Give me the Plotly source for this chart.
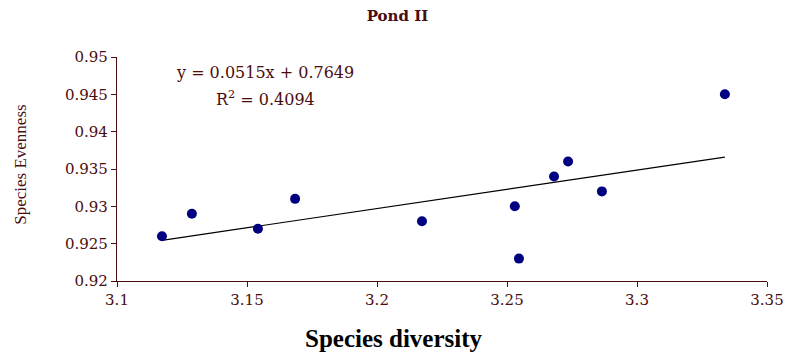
import plotly.graph_objects as go

# Pond II: species diversity vs species evenness
diversity = [3.1173, 3.1288, 3.1542, 3.1685, 3.2173, 3.2530, 3.2546, 3.2681, 3.2735, 3.2865, 3.3338]
evenness = [0.926, 0.929, 0.927, 0.931, 0.928, 0.930, 0.923, 0.934, 0.936, 0.932, 0.945]

slope = 0.0515
intercept = 0.7649
r_squared = 0.4094

x_ticks = [3.1, 3.15, 3.2, 3.25, 3.3, 3.35]
y_ticks = [0.92, 0.925, 0.93, 0.935, 0.94, 0.945, 0.95]

maroon = "#4a0d0d"
serif = "Liberation Serif, Times New Roman, serif"
wide_serif = "DejaVu Serif, serif"

x_lo, x_hi = min(diversity), max(diversity)
trend_x = [x_lo, x_hi]
trend_y = [slope * v + intercept for v in trend_x]

fig = go.Figure()
fig.add_trace(go.Scatter(
    x=trend_x, y=trend_y, mode="lines",
    line=dict(color="black", width=1.2),
    hoverinfo="skip", showlegend=False,
))
fig.add_trace(go.Scatter(
    x=diversity, y=evenness, mode="markers",
    marker=dict(color="#000080", size=10, line=dict(width=0)),
    showlegend=False,
))

# regression equation and R² as two lines of text
eq_font = dict(family=wide_serif, size=16, color=maroon)
fig.add_annotation(
    x=0.228, y=0.933, xref="paper", yref="paper",
    text=f"y = {slope}x + {intercept}",
    showarrow=False, xanchor="center", yanchor="middle", font=eq_font,
)
fig.add_annotation(
    x=0.228, y=0.815, xref="paper", yref="paper",
    text=f"R<sup>2</sup> = {r_squared}",
    showarrow=False, xanchor="center", yanchor="middle", font=eq_font,
)

# x-axis title, set left of the plot centre
fig.add_annotation(
    x=0.426, y=-0.255, xref="paper", yref="paper",
    text="<b>Species diversity</b>",
    showarrow=False, xanchor="center", yanchor="middle",
    font=dict(family=serif, size=25, color="black"),
)

# y-axis title, rotated
fig.add_annotation(
    x=-0.148, y=0.518, xref="paper", yref="paper",
    text="Species Evenness", textangle=-90,
    showarrow=False, xanchor="center", yanchor="middle",
    font=dict(family=serif, size=17, color=maroon),
)

fig.update_layout(
    width=787, height=354,
    margin=dict(l=117, r=20, t=57, b=73),
    paper_bgcolor="white", plot_bgcolor="white",
    title=dict(
        text="<b>Pond II</b>", x=0.505, xanchor="center", y=0.955, yanchor="middle",
        font=dict(family=wide_serif, size=15, color=maroon),
    ),
    xaxis=dict(
        range=[3.1, 3.35], tickvals=x_ticks, ticktext=[f"{v:g}" for v in x_ticks],
        showgrid=False, zeroline=False, automargin=False,
        showline=True, linecolor=maroon, linewidth=1.3,
        ticks="outside", ticklen=5, tickcolor=maroon, tickwidth=1.3,
        tickfont=dict(family=wide_serif, size=15, color=maroon),
    ),
    yaxis=dict(
        range=[0.92, 0.95], tickvals=y_ticks, ticktext=[f"{v:g}" for v in y_ticks],
        showgrid=False, zeroline=False, automargin=False,
        showline=True, linecolor=maroon, linewidth=1.3,
        ticks="outside", ticklen=5, tickcolor=maroon, tickwidth=1.3,
        tickfont=dict(family=wide_serif, size=15, color=maroon),
    ),
)

fig.write_html("out.html")
